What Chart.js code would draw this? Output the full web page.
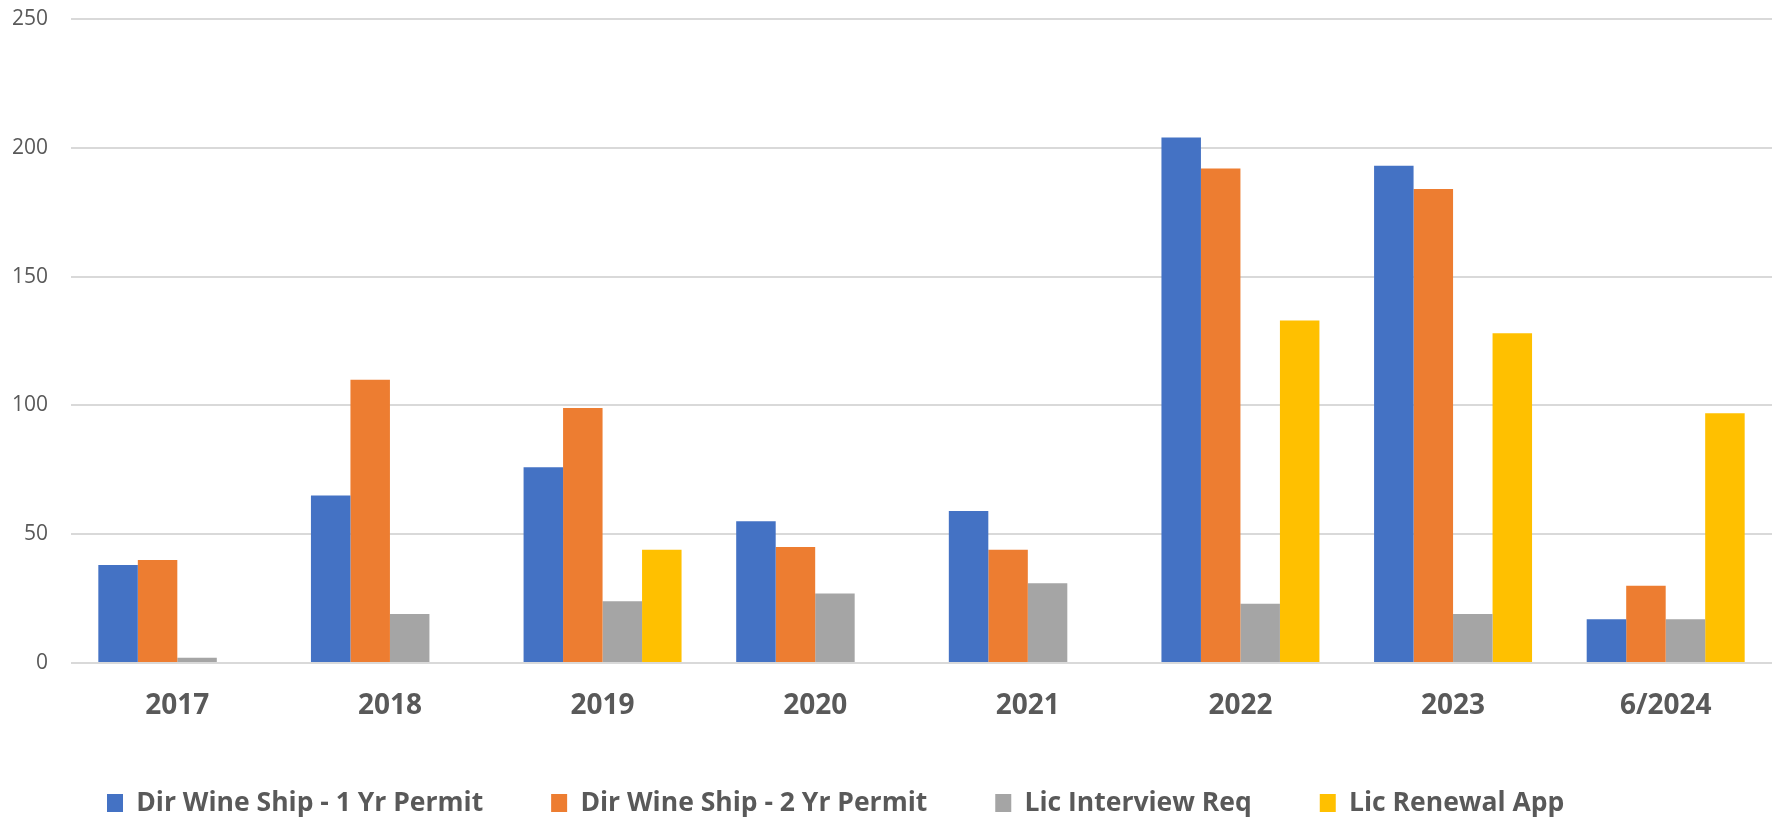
<!DOCTYPE html>
<html>
<head>
<meta charset="utf-8">
<script src="https://cdn.jsdelivr.net/npm/chart.js@4"></script>
<style>
  body { margin: 0; background: #fff; }
  #wrap { width: 1776px; height: 820px; position: relative; }
</style>
</head>
<body>
<div id="wrap"><canvas id="myChart"></canvas></div>
<script>
// categories and series
const years = ['2017', '2018', '2019', '2020', '2021', '2022', '2023', '6/2024']
const seriesNames = ['Dir Wine Ship - 1 Yr Permit', 'Dir Wine Ship - 2 Yr Permit', 'Lic Interview Req', 'Lic Renewal App']
const oneYrPermit = [38, 65, 76, 55, 59, 204, 193, 17]
const twoYrPermit = [40, 110, 99, 45, 44, 192, 184, 30]
const interviewReq = [2, 19, 24, 27, 31, 23, 19, 17]
const renewalApp = [null, null, 44, null, null, 133, 128, 97]
const yTicks = [0, 50, 100, 150, 200, 250]
const colors = ['#4472C4', '#ED7D31', '#A5A5A5', '#FFC000']

const LEGEND_PAD = 68
const LEGEND_FONT = 26.5

Chart.defaults.font.family = '"Open Sans", Lato, sans-serif'
Chart.defaults.color = '#595959'

// move the legend row to where it sits in the picture
const legendPlace = {
  id: 'legendPlace',
  afterLayout(chart) {
    const lg = chart.legend
    if (!lg) return
    lg.left = 107 - LEGEND_PAD
    lg.right = lg.left + chart.width
    lg.top = 803 - LEGEND_PAD - LEGEND_FONT / 2
    lg.bottom = chart.height
  }
}

const ctx = document.getElementById('myChart').getContext('2d')
const chart = new Chart(ctx, {
  type: 'bar',
  data: {
    labels: years,
    datasets: [oneYrPermit, twoYrPermit, interviewReq, renewalApp].map(function (vals, i) {
      return {
        label: seriesNames[i],
        data: vals,
        backgroundColor: colors[i],
        borderWidth: 0,
        categoryPercentage: 0.743,
        barPercentage: 1.0
      }
    })
  },
  options: {
    responsive: true,
    maintainAspectRatio: false,
    animation: false,
    layout: { padding: { top: 19, right: 4, left: 0, bottom: 0 } },
    plugins: {
      tooltip: { enabled: false },
      legend: {
        position: 'bottom',
        align: 'start',
        maxHeight: 57,
        labels: {
          boxWidth: 16,
          boxHeight: 18,
          padding: LEGEND_PAD,
          color: '#595959',
          font: { size: LEGEND_FONT, weight: 'bold' }
        }
      }
    },
    scales: {
      x: {
        grid: { display: false, drawTicks: false },
        border: { display: false },
        ticks: { padding: 26, color: '#595959', font: { size: 28, weight: 'bold' } },
        afterFit: function (scale) { scale.height = 100 }
      },
      y: {
        min: 0,
        max: 250,
        afterBuildTicks: function (scale) { scale.ticks = yTicks.map(function (v) { return { value: v } }) },
        grid: { color: '#D9D9D9', lineWidth: 2, drawTicks: false },
        border: { display: false },
        ticks: { padding: 23, color: '#595959', font: { size: 21 } },
        afterFit: function (scale) {
          scale.width = 71
          // tick padding would otherwise push the plot top down
          scale.paddingTop = 0
          scale.paddingBottom = 0
        }
      }
    }
  },
  plugins: [legendPlace]
})
</script>
</body>
</html>
